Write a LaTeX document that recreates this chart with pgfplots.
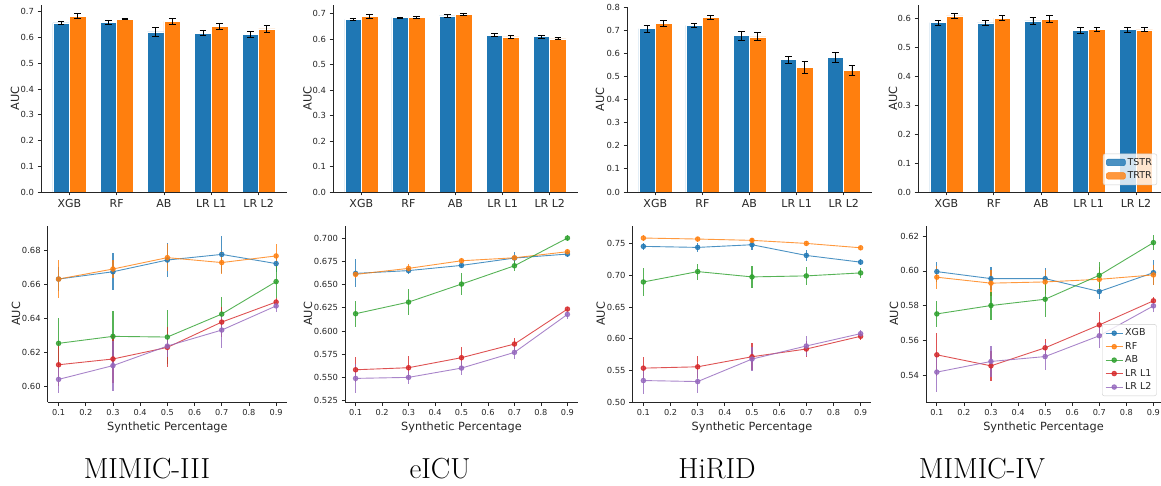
\documentclass[border=0pt]{standalone}
\usepackage{fontspec}
\setsansfont{DejaVu Sans}
\usepackage{pgfplots}
\usepackage{pgfplotstable}
\pgfplotsset{compat=1.18}

\definecolor{tabblue}{HTML}{1F77B4}
\definecolor{taborange}{HTML}{FF7F0E}
\definecolor{tabgreen}{HTML}{2CA02C}
\definecolor{tabred}{HTML}{D62728}
\definecolor{tabpurple}{HTML}{9467BD}
\definecolor{spine}{HTML}{262626}

% top row: bar centres (xa, xb), TSTR mean/err, TRTR mean/err
\pgfplotstableread{
xa     tstr  tstrerr xb    trtr  trtrerr
-0.175 0.657 0.007   0.175 0.683 0.009
0.825  0.658 0.008   1.175 0.671 0.003
1.825  0.622 0.018   2.175 0.662 0.010
2.825  0.617 0.009   3.175 0.643 0.010
3.825  0.613 0.012   4.175 0.633 0.013
}\barmimiciii
\pgfplotstableread{
xa     tstr  tstrerr xb    trtr  trtrerr
-0.175 0.678 0.005   0.175 0.690 0.008
0.825  0.685 0.002   1.175 0.685 0.005
1.825  0.691 0.005   2.175 0.696 0.005
2.825  0.616 0.006   3.175 0.609 0.005
3.825  0.610 0.006   4.175 0.601 0.004
}\bareicu
\pgfplotstableread{
xa     tstr  tstrerr xb    trtr  trtrerr
-0.175 0.706 0.014   0.175 0.730 0.012
0.825  0.721 0.009   1.175 0.754 0.008
1.825  0.676 0.019   2.175 0.671 0.017
2.825  0.572 0.016   3.175 0.540 0.026
3.825  0.583 0.022   4.175 0.526 0.020
}\barhirid
\pgfplotstableread{
xa     tstr  tstrerr xb    trtr  trtrerr
-0.175 0.585 0.008   0.175 0.608 0.008
0.825  0.584 0.010   1.175 0.601 0.009
1.825  0.591 0.012   2.175 0.597 0.013
2.825  0.559 0.010   3.175 0.562 0.008
3.825  0.561 0.009   4.175 0.560 0.007
}\barmimiciv

% bottom row: synthetic percentage, mean/err per model
\pgfplotstableread{
p   xgb    xgbe   rf     rfe    ab     abe    lone   lonee  ltwo   ltwoe
0.1 0.6633 0.0070 0.6633 0.0110 0.6255 0.0150 0.6129 0.0127 0.6043 0.0080
0.3 0.6676 0.0108 0.6692 0.0054 0.6296 0.0150 0.6163 0.0140 0.6124 0.0147
0.5 0.6745 0.0100 0.6759 0.0078 0.6292 0.0160 0.6231 0.0118 0.6239 0.0064
0.7 0.6778 0.0108 0.6730 0.0069 0.6427 0.0100 0.6380 0.0090 0.6333 0.0108
0.9 0.6724 0.0050 0.6769 0.0070 0.6618 0.0098 0.6498 0.0025 0.6475 0.0037
}\linmimiciii
\pgfplotstableread{
p   xgb    xgbe   rf     rfe    ab     abe    lone   lonee  ltwo   ltwoe
0.1 0.6620 0.0150 0.6609 0.0040 0.6186 0.0140 0.5583 0.0134 0.5490 0.0160
0.3 0.6650 0.0040 0.6674 0.0050 0.6311 0.0136 0.5605 0.0125 0.5501 0.0072
0.5 0.6706 0.0030 0.6756 0.0030 0.6505 0.0118 0.5713 0.0110 0.5601 0.0072
0.7 0.6785 0.0070 0.6788 0.0030 0.6702 0.0060 0.5860 0.0068 0.5770 0.0072
0.9 0.6828 0.0030 0.6853 0.0030 0.7000 0.0036 0.6236 0.0023 0.6179 0.0054
}\lineicu
\pgfplotstableread{
p   xgb    xgbe   rf     rfe    ab     abe    lone   lonee  ltwo   ltwoe
0.1 0.7458 0.0060 0.7590 0.0040 0.6896 0.0220 0.5535 0.0175 0.5339 0.0210
0.3 0.7442 0.0075 0.7574 0.0040 0.7060 0.0127 0.5556 0.0170 0.5323 0.0180
0.5 0.7484 0.0090 0.7553 0.0040 0.6976 0.0170 0.5715 0.0210 0.5678 0.0185
0.7 0.7315 0.0090 0.7505 0.0040 0.6992 0.0140 0.5837 0.0120 0.5885 0.0160
0.9 0.7209 0.0050 0.7436 0.0030 0.7039 0.0080 0.6038 0.0060 0.6080 0.0050
}\linhirid
\pgfplotstableread{
p   xgb    xgbe   rf     rfe    ab     abe    lone   lonee  ltwo   ltwoe
0.1 0.5996 0.0057 0.5964 0.0067 0.5754 0.0076 0.5520 0.0124 0.5421 0.0114
0.3 0.5956 0.0067 0.5930 0.0076 0.5802 0.0080 0.5457 0.0084 0.5482 0.0088
0.5 0.5956 0.0062 0.5937 0.0067 0.5838 0.0100 0.5560 0.0050 0.5510 0.0076
0.7 0.5882 0.0043 0.5952 0.0070 0.5975 0.0074 0.5691 0.0074 0.5629 0.0072
0.9 0.5990 0.0070 0.5977 0.0057 0.6162 0.0045 0.5829 0.0022 0.5800 0.0033
}\linmimiciv

\pgfplotsset{
  base/.style={
    scale only axis, anchor=south west,
    axis x line*=bottom, axis y line*=left,
    axis line style={-, spine, line width=0.9pt},
    tick align=outside, major tick length=3.5pt,
    tick style={spine, line width=0.8pt},
    /pgf/number format/assume math mode=true,
    ticklabel style={text=spine},
    yticklabel style={font=\sffamily\fontsize{8.4}{10}\selectfont},
    ylabel=AUC,
    label style={font=\sffamily\fontsize{11.3}{13}\selectfont, text=spine},
  },
  yl/.style={ylabel style={at={(axis description cs:-#1,0.5)}, anchor=center}},
  barpanel/.style={base,
    xmin=-0.6, xmax=4.6, ymin=0,
    xtick={0,1,2,3,4}, xticklabels={XGB,RF,AB,LR L1,LR L2},
    xticklabel style={font=\sffamily\fontsize{11}{13}\selectfont},
    ytick={0,0.1,0.2,0.3,0.4,0.5,0.6,0.7,0.8},
    yticklabel style={/pgf/number format/.cd, fixed, fixed zerofill, precision=1},
  },
  linepanel/.style={base,
    xmin=0.06, xmax=0.94,
    xtick={0.1,0.2,0.3,0.4,0.5,0.6,0.7,0.8,0.9},
    xticklabel style={font=\sffamily\fontsize{8.2}{10}\selectfont,
      /pgf/number format/.cd, fixed, fixed zerofill, precision=1},
    xlabel={Synthetic Percentage},
  },
  bars/.style={ybar, bar width=0.35, bar shift=0pt, fill=#1, draw=white, line width=0.5pt,
    error bars/.cd, y dir=both, y explicit,
    error bar style={black, line width=0.9pt},
    error mark options={rotate=90, mark size=3.3pt, black, line width=0.9pt}},
  ln/.style={color=#1, line width=0.9pt, opacity=0.8, mark=*, mark size=2.3pt,
    error bars/.cd, y dir=both, y explicit, error mark=none,
    error bar style={line width=1.1pt}},
  boxleg/.style={legend style={at={(axis description cs:#1)}, anchor=south west,
    draw=black!20, rounded corners=2pt, fill=white, fill opacity=0.8, text opacity=1,
    font=\sffamily\fontsize{9.5}{11}\selectfont, text=spine, row sep=1pt,
    inner xsep=3pt, inner ysep=2.5pt},
    legend cell align=left},
}

\begin{document}
\begin{tikzpicture}
\path[use as bounding box] (0,0) rectangle (1161pt,485pt);

% ---------- top row ----------
\begin{axis}[barpanel, at={(41pt,293pt)}, width=246pt, height=187pt, ymax=0.726, yl=0.106]
\addplot[bars=tabblue] table[x=xa, y=tstr, y error=tstrerr] {\barmimiciii};
\addplot[bars=taborange] table[x=xb, y=trtr, y error=trtrerr] {\barmimiciii};
\end{axis}

\begin{axis}[barpanel, at={(333pt,293pt)}, width=245pt, height=187pt, ymax=0.734, yl=0.104]
\addplot[bars=tabblue] table[x=xa, y=tstr, y error=tstrerr] {\bareicu};
\addplot[bars=taborange] table[x=xb, y=trtr, y error=trtrerr] {\bareicu};
\end{axis}

\begin{axis}[barpanel, at={(627pt,293pt)}, width=245pt, height=185pt, ymax=0.80, yl=0.110]
\addplot[bars=tabblue] table[x=xa, y=tstr, y error=tstrerr] {\barhirid};
\addplot[bars=taborange] table[x=xb, y=trtr, y error=trtrerr] {\barhirid};
\end{axis}

\begin{axis}[barpanel, at={(918pt,293pt)}, width=243pt, height=187pt, xmax=4.527, ymax=0.646, yl=0.103,
  boxleg={0.761,0.037}]
\addplot[bars=tabblue, /pgfplots/legend image code/.code={\fill[tabblue] (0pt,-3pt) rectangle (19pt,3.5pt);}]
  table[x=xa, y=tstr, y error=tstrerr] {\barmimiciv};
\addplot[bars=taborange, /pgfplots/legend image code/.code={\fill[taborange] (0pt,-3pt) rectangle (19pt,3.5pt);}]
  table[x=xb, y=trtr, y error=trtrerr] {\barmimiciv};
\legend{TSTR,TRTR}
\end{axis}

% ---------- bottom row ----------
\begin{axis}[linepanel, at={(47.7pt,83pt)}, width=239.3pt, height=176pt,
  ymin=0.591, ymax=0.6945, ytick={0.60,0.62,0.64,0.66,0.68}, yl=0.132,
  yticklabel style={/pgf/number format/.cd, fixed, fixed zerofill, precision=2}]
\addplot[ln=tabblue] table[x=p, y=xgb, y error=xgbe] {\linmimiciii};
\addplot[ln=taborange] table[x=p, y=rf, y error=rfe] {\linmimiciii};
\addplot[ln=tabgreen] table[x=p, y=ab, y error=abe] {\linmimiciii};
\addplot[ln=tabred] table[x=p, y=lone, y error=lonee] {\linmimiciii};
\addplot[ln=tabpurple] table[x=p, y=ltwo, y error=ltwoe] {\linmimiciii};
\end{axis}

\begin{axis}[linepanel, at={(345pt,83pt)}, width=233pt, height=176pt,
  ymin=0.5236, ymax=0.713, ytick={0.525,0.55,0.575,0.6,0.625,0.65,0.675,0.7}, yl=0.159,
  yticklabel style={/pgf/number format/.cd, fixed, fixed zerofill, precision=3}]
\addplot[ln=tabblue] table[x=p, y=xgb, y error=xgbe] {\lineicu};
\addplot[ln=taborange] table[x=p, y=rf, y error=rfe] {\lineicu};
\addplot[ln=tabgreen] table[x=p, y=ab, y error=abe] {\lineicu};
\addplot[ln=tabred] table[x=p, y=lone, y error=lonee] {\lineicu};
\addplot[ln=tabpurple] table[x=p, y=ltwo, y error=ltwoe] {\lineicu};
\end{axis}

\begin{axis}[linepanel, at={(632.5pt,83pt)}, width=239pt, height=176pt,
  ymin=0.5, ymax=0.778, ytick={0.5,0.55,0.6,0.65,0.7,0.75}, yl=0.133,
  yticklabel style={/pgf/number format/.cd, fixed, fixed zerofill, precision=2}]
\addplot[ln=tabblue] table[x=p, y=xgb, y error=xgbe] {\linhirid};
\addplot[ln=taborange] table[x=p, y=rf, y error=rfe] {\linhirid};
\addplot[ln=tabgreen] table[x=p, y=ab, y error=abe] {\linhirid};
\addplot[ln=tabred] table[x=p, y=lone, y error=lonee] {\linhirid};
\addplot[ln=tabpurple] table[x=p, y=ltwo, y error=ltwoe] {\linhirid};
\end{axis}

\begin{axis}[linepanel, at={(926pt,83pt)}, width=235pt, height=176pt, xmax=0.928,
  ymin=0.525, ymax=0.6257, ytick={0.54,0.56,0.58,0.6,0.62}, yl=0.136,
  yticklabel style={/pgf/number format/.cd, fixed, fixed zerofill, precision=2},
  boxleg={0.749,0.034}]
\addplot[ln=tabblue] table[x=p, y=xgb, y error=xgbe] {\linmimiciv};
\addplot[ln=taborange] table[x=p, y=rf, y error=rfe] {\linmimiciv};
\addplot[ln=tabgreen] table[x=p, y=ab, y error=abe] {\linmimiciv};
\addplot[ln=tabred] table[x=p, y=lone, y error=lonee] {\linmimiciv};
\addplot[ln=tabpurple] table[x=p, y=ltwo, y error=ltwoe] {\linmimiciv};
\legend{XGB,RF,AB,LR L1,LR L2}
\end{axis}

% ---------- dataset names ----------
\begin{scope}[every node/.style={anchor=base, font=\rmfamily\fontsize{29}{32}\selectfont}]
\node at (147pt,7pt) {MIMIC-III};
\node at (440pt,7pt) {eICU};
\node at (717pt,7pt) {HiRID};
\node at (982pt,7pt) {MIMIC-IV};
\end{scope}
\end{tikzpicture}
\end{document}
